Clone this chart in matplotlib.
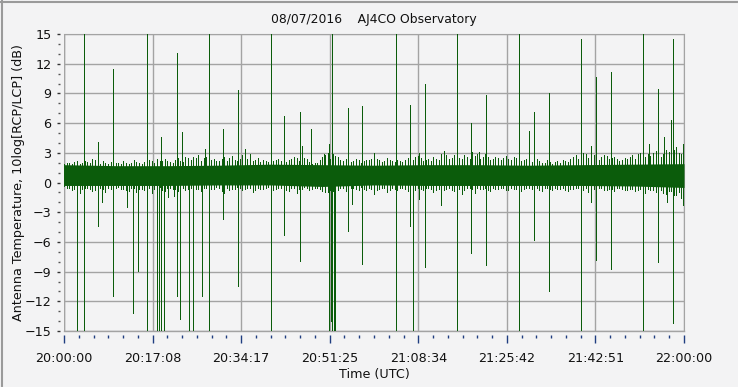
#!/usr/bin/env python3

import matplotlib
matplotlib.use('Agg')
import matplotlib.pyplot as plt
from matplotlib.ticker import MultipleLocator, FixedLocator
from matplotlib.lines import Line2D
import numpy as np

# time axis in minutes after 20:00:00 UTC
tick_labels = ['20:00:00', '20:17:08', '20:34:17', '20:51:25',
               '21:08:34', '21:25:42', '21:42:51', '22:00:00']

# dense part of the noise band, read every 10 min
core_t = [0, 10, 20, 30, 40, 50, 60, 70, 80, 90, 100, 110, 120]
core_top = [1.8, 1.7, 1.7, 1.75, 1.85, 1.8, 1.75, 1.8, 1.8, 1.75, 1.8, 1.85, 1.9]
core_bot = [-0.3, -0.3, -0.3, -0.25, -0.25, -0.4, -0.25, -0.3, -0.3, -0.3, -0.3, -0.35, -0.5]

# ragged edge of the band, read every minute (on the minute)
fuzz_top = [1.9, 2.0, 2.1, 1.9, 2.2, 2.0, 2.3, 1.9, 1.95, 2.1, 2.0, 1.9, 1.95, 2.0, 2.1,
            1.9, 2.0, 2.2, 2.4, 2.2, 2.2, 2.0, 2.45, 2.1, 2.45, 2.6, 2.8, 2.45, 2.3, 2.4,
            2.2, 2.6, 2.45, 2.3, 2.4, 3.4, 2.9, 2.3, 2.1, 2.2, 2.0, 2.3, 2.2, 2.1, 2.4,
            2.45, 2.3, 2.4, 1.9, 2.0, 2.6, 3.0, 2.9, 2.6, 2.2, 2.3, 2.2, 2.3, 2.2, 2.25,
            2.95, 2.3, 2.2, 2.3, 2.1, 2.2, 2.3, 2.4, 2.6, 2.5, 2.3, 2.2, 2.4, 2.9, 2.8,
            2.5, 2.7, 2.4, 2.6, 3.1, 2.9, 2.6, 2.6, 2.4, 2.5, 2.5, 2.4, 2.6, 2.4, 2.3,
            2.3, 2.2, 2.2, 2.0, 2.1, 2.1, 2.0, 2.2, 2.4, 2.8, 2.7, 2.9, 2.6, 2.5, 2.6,
            2.7, 2.5, 2.4, 2.3, 2.4, 2.8, 2.9, 2.7, 2.9, 3.0, 2.8, 2.9, 3.1, 3.3, 3.0, 3.2]
fuzz_bot = [-0.4, -0.6, -0.7, -1.1, -0.6, -0.7, -0.8, -0.6, -1.0, -0.7, -0.6, -0.7, -0.8, -0.6, -1.0,
            -0.7, -0.6, -1.1, -0.7, -0.8, -0.6, -0.7, -0.9, -0.6, -0.7, -1.0, -0.7, -0.6, -0.8, -0.7,
            -0.6, -1.1, -0.8, -0.7, -0.6, -0.7, -0.6, -0.8, -0.7, -0.6, -0.6, -0.7, -0.6, -0.8, -0.6,
            -1.1, -0.7, -0.6, -0.7, -0.6, -0.9, -1.0, -0.9, -0.8, -0.6, -0.7, -0.6, -0.8, -0.7, -0.6,
            -1.2, -0.7, -0.6, -0.8, -0.7, -0.6, -0.7, -0.6, -0.8, -0.7, -0.6, -0.7, -0.8, -1.2, -0.7,
            -0.8, -0.7, -1.2, -0.6, -0.7, -0.6, -0.7, -0.8, -0.6, -0.7, -0.6, -0.8, -0.7, -0.6, -0.7,
            -0.6, -0.7, -0.8, -0.6, -0.7, -0.6, -0.7, -0.8, -0.7, -0.6, -0.7, -0.6, -0.9, -0.7, -0.6,
            -0.8, -0.7, -0.6, -0.7, -0.8, -0.7, -0.8, -1.0, -0.7, -0.8, -0.9, -1.1, -0.9, -1.3, -1.0, -1.4]

# ragged edge read between the minutes (m + 0.5)
fuzz_top_half = [2.0, 1.9, 2.2, 2.0, 2.1, 2.4, 2.0, 2.2, 1.9, 2.1, 2.0, 2.2, 1.9, 2.3, 2.0,
                 2.1, 2.3, 2.0, 2.2, 2.4, 2.1, 2.3, 2.2, 2.6, 2.3, 2.5, 2.2, 2.6, 2.3, 2.2,
                 2.4, 2.2, 2.7, 2.2, 2.8, 2.4, 2.2, 2.5, 2.3, 2.1, 2.2, 2.4, 2.0, 2.3, 2.6,
                 2.2, 2.5, 2.1, 2.0, 2.3, 2.8, 2.4, 2.7, 2.3, 2.4, 2.1, 2.4, 2.0, 2.3, 2.4,
                 2.4, 2.1, 2.5, 2.2, 2.3, 2.1, 2.5, 2.3, 2.7, 2.2, 2.4, 2.6, 2.3, 3.2, 2.4,
                 2.8, 2.5, 2.8, 2.4, 2.7, 2.4, 2.9, 2.3, 2.6, 2.3, 2.7, 2.3, 2.5, 2.2, 2.4,
                 2.1, 2.4, 2.0, 2.3, 1.9, 2.2, 2.3, 2.1, 2.6, 2.4, 3.0, 2.5, 2.8, 2.3, 2.8,
                 2.4, 2.6, 2.2, 2.5, 2.6, 2.4, 3.0, 2.6, 2.7, 3.2, 2.6, 3.3, 2.8, 3.6, 2.9]
fuzz_bot_half = [-0.6, -0.8, -0.5, -0.7, -0.6, -0.9, -0.5, -0.7, -0.6, -0.8, -0.5, -0.7, -0.9, -0.6, -0.7,
                 -0.8, -0.6, -0.7, -0.5, -0.9, -0.6, -0.7, -0.5, -0.8, -0.6, -0.7, -0.9, -0.6, -0.7, -0.5,
                 -0.9, -0.6, -0.7, -0.5, -0.8, -0.6, -1.0, -0.6, -0.7, -0.5, -0.8, -0.6, -0.7, -0.9, -0.6,
                 -0.7, -0.5, -0.8, -0.6, -0.7, -1.0, -0.8, -0.7, -0.6, -0.9, -0.6, -0.7, -0.5, -0.8, -0.7,
                 -0.8, -0.6, -1.0, -0.6, -0.8, -0.6, -0.9, -0.7, -0.6, -0.8, -0.6, -1.0, -0.7, -0.8, -0.6,
                 -0.9, -0.7, -0.8, -0.6, -1.1, -0.7, -0.6, -0.9, -0.7, -0.6, -0.8, -0.6, -0.7, -0.9, -0.6,
                 -0.7, -0.6, -0.9, -0.6, -0.8, -0.7, -0.6, -0.9, -0.7, -0.6, -0.8, -1.0, -0.7, -0.6, -0.8,
                 -0.7, -0.9, -0.6, -0.8, -0.7, -0.9, -0.7, -1.1, -0.8, -1.0, -0.8, -1.2, -0.9, -1.3, -1.6]

# interference spikes (minutes, dB)
up_t = [3.93, 6.64, 9.54, 16.0, 18.72, 21.78, 22.78, 27.23, 28.0, 30.77, 33.74, 35.09,
        40.12, 42.64, 45.73, 46.07, 47.86, 50.38, 51.29, 51.93, 54.9, 57.73, 64.2, 66.9,
        68.65, 69.93, 73.6, 76.12, 78.83, 80.26, 81.74, 88.12, 90.06, 90.9, 93.93, 100.12,
        102.0, 103.03, 105.93, 112.12, 113.28, 114.9, 116.19, 117.56, 117.95, 119.8]
up_v = [15, 4.1, 11.46, 15, 4.6, 13.1, 5.1, 3.4, 15, 5.4, 9.35, 3.4,
        15, 6.75, 7.1, 3.7, 5.4, 2.9, 3.9, 15, 7.55, 7.75, 15, 7.8,
        3.0, 9.95, 3.1, 15, 6.05, 3.1, 8.85, 15, 5.2, 7.1, 9.05, 14.5,
        3.7, 10.7, 11.2, 15, 3.9, 9.4, 4.6, 6.3, 14.5, 3.9]
down_t = [2.57, 3.93, 6.64, 7.41, 9.54, 12.25, 13.41, 14.26, 16.0, 17.94, 18.45, 18.83,
          19.41, 20.19, 21.29, 21.78, 22.4, 24.25, 24.91, 26.77, 28.0, 30.77, 33.74, 40.12,
          42.64, 45.73, 51.35, 51.6, 51.9, 52.2, 52.45, 54.9, 55.8, 57.73, 64.2, 66.9,
          67.49, 68.65, 69.93, 73.0, 76.12, 78.83, 81.74, 88.12, 90.9, 93.93, 100.12, 102.0,
          103.03, 105.93, 112.12, 114.9, 116.77, 117.95, 119.8]
down_v = [-15, -15, -4.36, -1.94, -11.46, -2.5, -13.15, -8.9, -15, -15, -15, -15,
          -15, -1.5, -1.4, -11.46, -13.8, -15, -15, -11.5, -15, -3.7, -10.5, -15,
          -5.35, -7.95, -15, -14.0, -15, -15, -15, -4.87, -2.2, -8.2, -15, -4.4,
          -15, -1.7, -8.5, -2.3, -15, -7.1, -8.3, -15, -5.8, -11.0, -15, -1.95,
          -7.8, -8.7, -15, -8.0, -1.95, -14.15, -2.3]

if __name__ == "__main__":
    green = '#0b5c0b'
    bg = '#f3f3f4'
    gridc = '#a3a3a3'

    fig = plt.figure(figsize=(7.4, 3.89), dpi=100, facecolor=bg)
    ax = fig.add_axes([64 / 740, 1 - 331 / 389, 620 / 740, 297 / 389], facecolor=bg)

    minutes = np.arange(len(fuzz_top))
    halves = np.arange(len(fuzz_top_half)) + 0.5
    base = 0.7
    lw = 0.72  # one pixel
    ax.fill_between(core_t, core_bot, core_top, color=green, linewidth=0, zorder=3)
    ax.vlines(minutes, fuzz_bot, fuzz_top, color=green, linewidth=lw, zorder=3,
              antialiased=False)
    ax.vlines(halves, fuzz_bot_half, fuzz_top_half, color=green, linewidth=lw, zorder=3,
              antialiased=False)
    ax.vlines(up_t, base, up_v, color=green, linewidth=lw, zorder=3, antialiased=False)
    ax.vlines(down_t, base, down_v, color=green, linewidth=lw, zorder=3, antialiased=False)

    ax.set_xlim(0, 120)
    ax.set_ylim(-15, 15)

    major_x = [120 / 7 * k for k in range(8)]
    ax.xaxis.set_major_locator(FixedLocator(major_x))
    ax.xaxis.set_minor_locator(MultipleLocator(120 / 42))
    ax.set_xticklabels(tick_labels)
    ax.yaxis.set_major_locator(MultipleLocator(3))
    ax.yaxis.set_minor_locator(MultipleLocator(1))

    ax.grid(True, which='major', color=gridc, linewidth=1.0, zorder=1)
    ax.set_axisbelow(True)

    for side in ('left', 'bottom'):
        ax.spines[side].set_position(('outward', 3))
        ax.spines[side].set_color('none')
    for side in ('top', 'right'):
        ax.spines[side].set_color(gridc)
    ax.axvline(0, color=gridc, linewidth=1.0, zorder=1)
    ax.axhline(-15, color=gridc, linewidth=1.0, zorder=1, clip_on=False)

    ax.tick_params(axis='x', which='major', direction='out', length=6, width=1,
                   color='#1f3d80', pad=6, labelsize=9.2, labelcolor='#111111')
    ax.tick_params(axis='x', which='minor', direction='out', length=2.2, width=1,
                   color='#1f3d80')
    ax.tick_params(axis='y', which='major', direction='out', length=2, width=1,
                   color='#333333', pad=4, labelsize=9.2, labelcolor='#111111')
    ax.tick_params(axis='y', which='minor', direction='out', length=1.2, width=1,
                   color='#555555')

    ax.set_title('08/07/2016    AJ4CO Observatory', fontsize=8.9, color='#111111', pad=8)
    ax.set_xlabel('Time (UTC)', fontsize=9.2, color='#111111', labelpad=2)
    ax.set_ylabel('Antenna Temperature, 10log[RCP/LCP] (dB)', fontsize=9.2,
                  color='#111111', labelpad=0)

    # sunken window frame
    fig.add_artist(Line2D([0, 1], [1 - 1.5 / 389] * 2, color='#9a9a9a', lw=1.5))
    fig.add_artist(Line2D([1.5 / 740] * 2, [0, 1], color='#9a9a9a', lw=1.5))
    fig.add_artist(Line2D([0, 1], [1.5 / 389] * 2, color='#ffffff', lw=1.5))
    fig.add_artist(Line2D([1 - 1.5 / 740] * 2, [0, 1], color='#ffffff', lw=1.5))

    plt.savefig('out.png', dpi=100, facecolor=bg)
